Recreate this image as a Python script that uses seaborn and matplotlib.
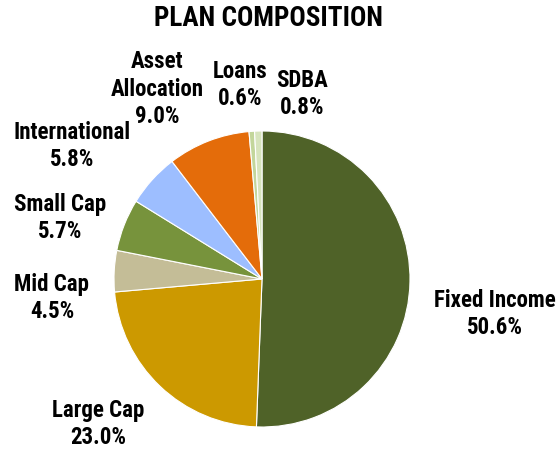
import matplotlib
matplotlib.use("Agg")
import matplotlib.pyplot as plt
import seaborn as sns

# ---- data ----
categories = ["Fixed Income", "Large Cap", "Mid Cap", "Small Cap",
              "International", "Asset\nAllocation", "Loans", "SDBA"]
values = [50.6, 23.0, 4.5, 5.7, 5.8, 9.0, 0.6, 0.8]
pct_labels = ["50.6%", "23.0%", "4.5%", "5.7%", "5.8%", "9.0%", "0.6%", "0.8%"]
colors = ["#4F6228", "#CC9900", "#C4BD97", "#77933C",
          "#9DBEFF", "#E46C0A", "#C3D69B", "#D7E4BD"]

# ---- layout (pixel centers of label blocks) ----
label_pos = [(495, 314), (98, 424), (52, 298), (60, 218),
             (72, 146), (157, 89), (240, 85), (302, 94)]

sns.set_theme(style="white")
plt.rcParams['font.family'] = ['Roboto Condensed', 'DejaVu Sans']

W, H = 558, 450
fig = plt.figure(figsize=(W / 100, H / 100), dpi=100)
cx, cy, r = 262, 279, 148
ax = fig.add_axes([(cx - r) / W, (H - cy - r) / H, 2 * r / W, 2 * r / H])
ax.pie(values, colors=sns.color_palette(colors), startangle=90, counterclock=False,
       radius=1, wedgeprops=dict(edgecolor="white", linewidth=0.8))
ax.set_xlim(-1, 1)
ax.set_ylim(-1, 1)
ax.set_aspect("equal")
ax.axis("off")

for cat, pct, (px, py) in zip(categories, pct_labels, label_pos):
    fig.text(px / W, 1 - py / H, f"{cat}\n{pct}", ha="center", va="center",
             fontsize=16.5, fontweight="bold", linespacing=1.25, color="black")

fig.text(269 / W, 1 - 19 / H, "PLAN COMPOSITION", ha="center", va="center",
         fontsize=19.5, fontweight="bold", color="black")

fig.savefig("out.png", dpi=100, facecolor="white")
